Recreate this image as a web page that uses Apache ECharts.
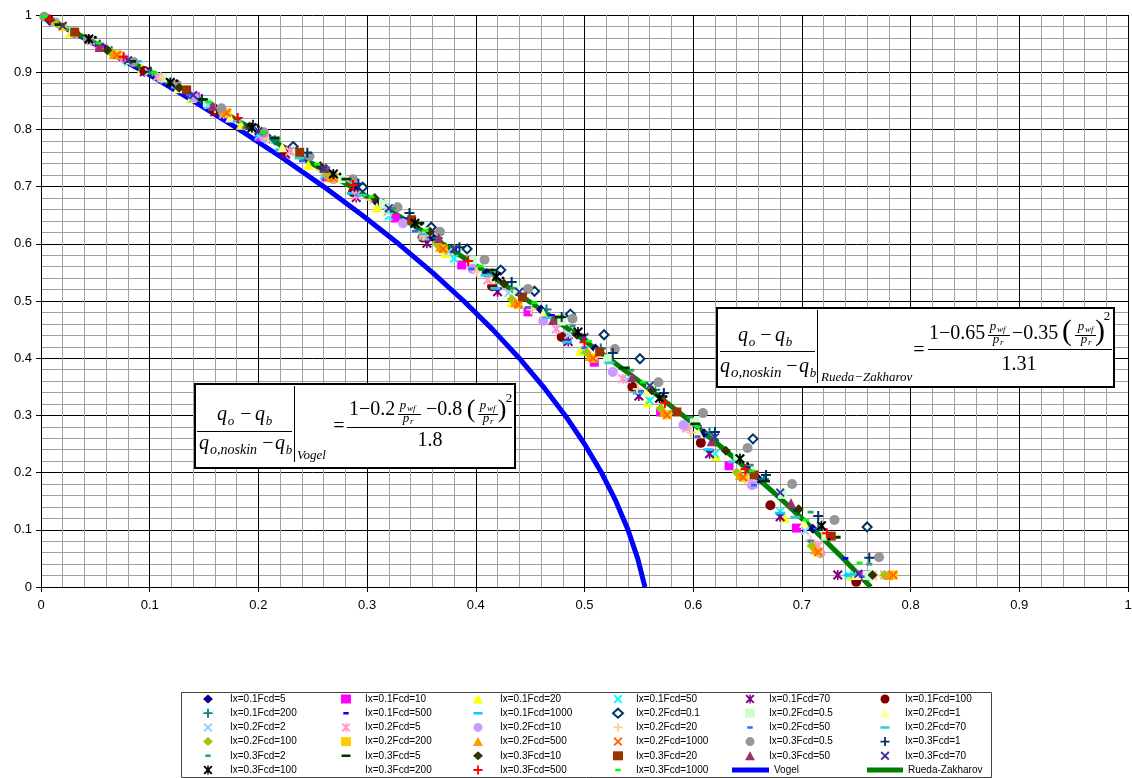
<!DOCTYPE html>
<html><head><meta charset="utf-8">
<script src="https://cdn.jsdelivr.net/npm/echarts@6/dist/echarts.min.js"></script>
<style>html,body{margin:0;padding:0;background:#fff}#c{width:1132px;height:778px}</style>
</head><body><div id="c"></div>
<script>
// ---------- DATA ----------
const xTickLabels = ['0','0.1','0.2','0.3','0.4','0.5','0.6','0.7','0.8','0.9','1'];
const seriesNames = ['Ix=0.1Fcd=5','Ix=0.1Fcd=10','Ix=0.1Fcd=20','Ix=0.1Fcd=50','Ix=0.1Fcd=70','Ix=0.1Fcd=100',
 'Ix=0.1Fcd=200','Ix=0.1Fcd=500','Ix=0.1Fcd=1000','Ix=0.2Fcd=0.1','Ix=0.2Fcd=0.5','Ix=0.2Fcd=1',
 'Ix=0.2Fcd=2','Ix=0.2Fcd=5','Ix=0.2Fcd=10','Ix=0.2Fcd=20','Ix=0.2Fcd=50','Ix=0.2Fcd=70',
 'Ix=0.2Fcd=100','Ix=0.2Fcd=200','Ix=0.2Fcd=500','Ix=0.2Fcd=1000','Ix=0.3Fcd=0.5','Ix=0.3Fcd=1',
 'Ix=0.3Fcd=2','Ix=0.3Fcd=5','Ix=0.3Fcd=10','Ix=0.3Fcd=20','Ix=0.3Fcd=50','Ix=0.3Fcd=70',
 'Ix=0.3Fcd=100','Ix=0.3Fcd=200','Ix=0.3Fcd=500','Ix=0.3Fcd=1000'];
const lineNames = ['Vogel','Rueda-Zakharov'];

const ix01_fcd5 = [[0.010,0.990],[0.060,0.941],[0.110,0.890],[0.160,0.838],[0.210,0.784],[0.260,0.729],[0.310,0.671],[0.360,0.612],[0.410,0.549],[0.460,0.485],[0.510,0.417],[0.560,0.345],[0.610,0.269],[0.660,0.189],[0.710,0.102],[0.755,0.020]];
const ix01_fcd10 = [[0.054,0.944],[0.142,0.857],[0.201,0.787],[0.262,0.717],[0.326,0.645],[0.387,0.563],[0.448,0.481],[0.509,0.393],[0.570,0.306],[0.633,0.212],[0.695,0.103],[0.756,0.021]];
const ix01_fcd20 = [[0.027,0.969],[0.093,0.907],[0.138,0.855],[0.184,0.808],[0.246,0.738],[0.309,0.664],[0.372,0.584],[0.433,0.498],[0.496,0.413],[0.558,0.323],[0.621,0.229],[0.684,0.121],[0.745,0.020]];
const ix01_fcd50 = [[0.020,0.980],[0.080,0.918],[0.140,0.854],[0.200,0.788],[0.260,0.720],[0.320,0.648],[0.380,0.574],[0.440,0.496],[0.500,0.414],[0.560,0.326],[0.620,0.233],[0.680,0.132],[0.743,0.021]];
const ix01_fcd70 = [[0.030,0.970],[0.095,0.901],[0.160,0.831],[0.225,0.757],[0.290,0.681],[0.355,0.601],[0.420,0.516],[0.485,0.429],[0.550,0.334],[0.615,0.233],[0.680,0.123],[0.733,0.021]];
const ix01_fcd100 = [[0.031,0.969],[0.095,0.902],[0.159,0.834],[0.223,0.763],[0.287,0.690],[0.351,0.611],[0.415,0.526],[0.479,0.437],[0.544,0.350],[0.607,0.252],[0.671,0.143],[0.750,0.009]];
const ix01_fcd200 = [[0.015,0.986],[0.065,0.937],[0.115,0.887],[0.165,0.835],[0.215,0.781],[0.265,0.727],[0.315,0.669],[0.365,0.610],[0.415,0.548],[0.465,0.485],[0.515,0.417],[0.565,0.345],[0.615,0.270],[0.665,0.189],[0.715,0.102],[0.762,0.020]];
const ix01_fcd500 = [[0.020,0.981],[0.065,0.936],[0.110,0.891],[0.155,0.844],[0.200,0.796],[0.245,0.747],[0.290,0.697],[0.335,0.644],[0.380,0.590],[0.425,0.533],[0.470,0.475],[0.515,0.413],[0.560,0.349],[0.605,0.281],[0.650,0.210],[0.695,0.134],[0.740,0.050]];
const ix01_fcd1000 = [[0.022,0.978],[0.088,0.919],[0.154,0.838],[0.220,0.764],[0.286,0.688],[0.352,0.608],[0.418,0.522],[0.484,0.428],[0.549,0.339],[0.614,0.240],[0.680,0.129],[0.743,0.021]];
const ix02_fcd01 = [[0.008,0.991],[0.232,0.770],[0.296,0.699],[0.359,0.629],[0.392,0.591],[0.423,0.554],[0.454,0.517],[0.487,0.477],[0.518,0.441],[0.551,0.399],[0.655,0.259],[0.760,0.105]];
const ix02_fcd05 = [[0.030,0.971],[0.071,0.931],[0.112,0.890],[0.153,0.847],[0.194,0.803],[0.235,0.759],[0.276,0.714],[0.315,0.669],[0.356,0.621],[0.397,0.571],[0.438,0.519],[0.479,0.465],[0.521,0.399],[0.561,0.350],[0.601,0.289],[0.641,0.227],[0.682,0.162],[0.722,0.089],[0.760,0.020]];
const ix02_fcd1 = [[0.030,0.970],[0.078,0.922],[0.126,0.872],[0.174,0.821],[0.222,0.769],[0.270,0.716],[0.318,0.657],[0.366,0.600],[0.414,0.538],[0.462,0.478],[0.510,0.410],[0.557,0.342],[0.605,0.269],[0.654,0.191],[0.702,0.112],[0.750,0.021]];
const ix02_fcd2 = [[0.044,0.956],[0.099,0.900],[0.154,0.843],[0.209,0.782],[0.264,0.721],[0.319,0.656],[0.375,0.586],[0.430,0.514],[0.485,0.441],[0.539,0.363],[0.594,0.280],[0.649,0.192],[0.703,0.098]];
const ix02_fcd5 = [[0.046,0.955],[0.107,0.892],[0.168,0.827],[0.229,0.762],[0.290,0.685],[0.351,0.615],[0.411,0.537],[0.474,0.451],[0.535,0.364],[0.594,0.278],[0.655,0.180],[0.715,0.072],[0.776,0.021]];
const ix02_fcd10 = [[0.013,0.987],[0.077,0.923],[0.141,0.856],[0.205,0.786],[0.269,0.713],[0.333,0.636],[0.397,0.556],[0.462,0.465],[0.526,0.376],[0.591,0.283],[0.654,0.178],[0.717,0.059]];
const ix02_fcd20 = [[0.012,0.988],[0.061,0.940],[0.111,0.889],[0.160,0.837],[0.209,0.783],[0.258,0.728],[0.303,0.677],[0.352,0.614],[0.401,0.551],[0.451,0.485],[0.500,0.417],[0.549,0.346],[0.598,0.270],[0.648,0.189],[0.708,0.082],[0.768,0.020]];
const ix02_fcd50 = [[0.032,0.968],[0.084,0.915],[0.136,0.860],[0.188,0.803],[0.240,0.745],[0.292,0.685],[0.344,0.622],[0.396,0.556],[0.448,0.489],[0.500,0.418],[0.552,0.342],[0.604,0.263],[0.656,0.178],[0.708,0.080],[0.755,0.018]];
const ix02_fcd70 = [[0.010,0.990],[0.067,0.933],[0.124,0.874],[0.181,0.814],[0.238,0.750],[0.295,0.685],[0.352,0.617],[0.409,0.545],[0.466,0.471],[0.523,0.392],[0.580,0.307],[0.637,0.219],[0.694,0.122],[0.748,0.022]];
const ix02_fcd100 = [[0.015,0.985],[0.064,0.935],[0.165,0.835],[0.263,0.720],[0.364,0.600],[0.433,0.503],[0.502,0.410],[0.570,0.312],[0.640,0.200],[0.709,0.072],[0.776,0.021]];
const ix02_fcd200 = [[0.020,0.980],[0.070,0.930],[0.171,0.829],[0.269,0.715],[0.370,0.591],[0.439,0.494],[0.508,0.400],[0.576,0.301],[0.646,0.192],[0.715,0.061],[0.784,0.021]];
const ix02_fcd500 = [[0.067,0.932],[0.168,0.832],[0.266,0.717],[0.367,0.595],[0.436,0.498],[0.505,0.404],[0.573,0.306],[0.643,0.196],[0.712,0.066],[0.780,0.021]];
const ix02_fcd1000 = [[0.070,0.930],[0.171,0.829],[0.269,0.715],[0.370,0.591],[0.439,0.494],[0.508,0.400],[0.576,0.301],[0.646,0.192],[0.715,0.061],[0.784,0.021]];
const ix03_fcd05 = [[0.003,0.997],[0.043,0.958],[0.085,0.918],[0.125,0.878],[0.166,0.837],[0.205,0.795],[0.247,0.753],[0.287,0.713],[0.328,0.664],[0.367,0.621],[0.408,0.572],[0.448,0.521],[0.489,0.469],[0.528,0.416],[0.568,0.358],[0.609,0.304],[0.650,0.243],[0.691,0.180],[0.730,0.117],[0.771,0.052]];
const ix03_fcd1 = [[0.008,0.991],[0.054,0.948],[0.101,0.901],[0.148,0.853],[0.195,0.808],[0.245,0.759],[0.292,0.705],[0.339,0.654],[0.385,0.594],[0.433,0.533],[0.479,0.472],[0.526,0.409],[0.573,0.339],[0.620,0.271],[0.667,0.196],[0.715,0.124],[0.762,0.051]];
const ix03_fcd2 = [[0.047,0.955],[0.102,0.899],[0.158,0.843],[0.213,0.784],[0.269,0.724],[0.324,0.662],[0.379,0.596],[0.434,0.522],[0.489,0.456],[0.543,0.379],[0.597,0.297],[0.653,0.213],[0.708,0.131],[0.762,0.040]];
const ix03_fcd5 = [[0.017,0.983],[0.083,0.919],[0.149,0.852],[0.215,0.785],[0.281,0.713],[0.348,0.636],[0.415,0.554],[0.477,0.472],[0.537,0.383],[0.602,0.285],[0.666,0.185],[0.731,0.087]];
const ix03_fcd10 = [[0.008,0.992],[0.061,0.939],[0.127,0.873],[0.192,0.805],[0.257,0.736],[0.307,0.680],[0.358,0.621],[0.426,0.530],[0.493,0.441],[0.562,0.344],[0.630,0.238],[0.697,0.136],[0.765,0.021]];
const ix03_fcd20 = [[0.031,0.970],[0.134,0.869],[0.238,0.760],[0.341,0.642],[0.443,0.507],[0.514,0.411],[0.585,0.306],[0.656,0.196],[0.727,0.089]];
const ix03_fcd50 = [[0.054,0.944],[0.158,0.841],[0.262,0.733],[0.366,0.610],[0.471,0.467],[0.544,0.367],[0.617,0.255],[0.690,0.147]];
const ix03_fcd70 = [[0.020,0.981],[0.080,0.921],[0.140,0.860],[0.200,0.797],[0.260,0.731],[0.320,0.662],[0.380,0.591],[0.440,0.516],[0.500,0.437],[0.560,0.352],[0.620,0.262],[0.680,0.165],[0.752,0.023]];
const ix03_fcd100 = [[0.044,0.958],[0.119,0.882],[0.194,0.803],[0.269,0.722],[0.344,0.636],[0.419,0.543],[0.494,0.446],[0.569,0.330],[0.643,0.224],[0.718,0.107]];
const ix03_fcd200 = [[0.050,0.961],[0.125,0.885],[0.200,0.805],[0.275,0.722],[0.350,0.634],[0.425,0.540],[0.500,0.441],[0.575,0.333],[0.650,0.216],[0.725,0.084]];
const ix03_fcd500 = [[0.008,0.992],[0.076,0.927],[0.181,0.820],[0.287,0.703],[0.393,0.570],[0.500,0.428],[0.574,0.322],[0.648,0.206],[0.723,0.094]];
const ix03_fcd1000 = [[0.003,0.997],[0.053,0.951],[0.104,0.899],[0.154,0.848],[0.204,0.794],[0.254,0.739],[0.304,0.682],[0.354,0.623],[0.404,0.561],[0.454,0.497],[0.504,0.430],[0.554,0.358],[0.604,0.280],[0.654,0.203],[0.704,0.117],[0.753,0.042]];

const vogelCurve = [[0,1],[0.0489,0.95],[0.0956,0.9],[0.14,0.85],[0.1822,0.8],[0.2222,0.75],[0.26,0.7],[0.2956,0.65],[0.3289,0.6],[0.36,0.55],[0.3889,0.5],[0.4156,0.45],[0.44,0.4],[0.4622,0.35],[0.4822,0.3],[0.5,0.25],[0.5156,0.2],[0.5289,0.15],[0.54,0.1],[0.5489,0.05],[0.5556,0]];
const ruedaCurve = [[0,1],[0.0509,0.95],[0.1004,0.9],[0.1486,0.85],[0.1954,0.8],[0.2409,0.75],[0.2851,0.7],[0.328,0.65],[0.3695,0.6],[0.4096,0.55],[0.4485,0.5],[0.486,0.45],[0.5221,0.4],[0.557,0.35],[0.5905,0.3],[0.6226,0.25],[0.6534,0.2],[0.6829,0.15],[0.7111,0.1],[0.7379,0.05],[0.7634,0]];

const seriesData = [ix01_fcd5,ix01_fcd10,ix01_fcd20,ix01_fcd50,ix01_fcd70,ix01_fcd100,ix01_fcd200,ix01_fcd500,ix01_fcd1000,
 ix02_fcd01,ix02_fcd05,ix02_fcd1,ix02_fcd2,ix02_fcd5,ix02_fcd10,ix02_fcd20,ix02_fcd50,ix02_fcd70,
 ix02_fcd100,ix02_fcd200,ix02_fcd500,ix02_fcd1000,ix03_fcd05,ix03_fcd1,ix03_fcd2,ix03_fcd5,ix03_fcd10,
 ix03_fcd20,ix03_fcd50,ix03_fcd70,ix03_fcd100,ix03_fcd200,ix03_fcd500,ix03_fcd1000];

// ---------- STYLES ----------
const SYM = {
  dia: 'diamond', sq: 'rect', tri: 'triangle', cir: 'circle', hdia: 'emptyDiamond',
  x: 'path://M1.5,0L5,3.5L8.5,0L10,1.5L6.5,5L10,8.5L8.5,10L5,6.5L1.5,10L0,8.5L3.5,5L0,1.5Z',
  plus: 'path://M4,0H6V4H10V6H6V10H4V6H0V4H4Z',
  ast: 'path://M1.5,0L5,3.5L8.5,0L10,1.5L6.5,5L10,8.5L8.5,10L5,6.5L1.5,10L0,8.5L3.5,5L0,1.5ZM4.2,0H5.8V10H4.2Z',
  sdash: 'path://M0,0L0.01,0ZM10,10L10.01,10ZM2,3.6H8V6.4H2Z',
  ldash: 'path://M0,0L0.01,0ZM10,10L10.01,10ZM0,3.6H10V6.4H0Z'
};
const markers = [
 ['dia',10,'#000080'],['sq',9,'#FF00FF'],['tri',10,'#FFFF00'],['x',9,'#00FFFF'],['ast',10,'#800080'],['cir',10,'#800000'],
 ['plus',10,'#008080'],['sdash',10,'#0000FF'],['ldash',10,'#00CCFF'],['hdia',9,'#003366'],['sq',9,'#CCFFCC'],['tri',10,'#FFFF99'],
 ['x',9,'#99CCFF'],['ast',10,'#FF99CC'],['cir',10,'#CC99FF'],['plus',10,'#FFCC99'],['sdash',10,'#3366FF'],['ldash',10,'#33CCCC'],
 ['dia',10,'#99CC00'],['sq',9,'#FFCC00'],['tri',10,'#FF9900'],['x',9,'#FF6600'],['cir',10,'#969696'],['plus',10,'#003366'],
 ['sdash',10,'#339966'],['ldash',10,'#003300'],['dia',10,'#333300'],['sq',9,'#993300'],['tri',10,'#993366'],['x',9,'#333399'],
 ['ast',10,'#000000'],['cir',3,'#000000'],['plus',10,'#FF0000'],['sdash',10,'#00FF00']
];

// ---------- SERIES ----------
const series = seriesNames.map((n, i) => ({
  type: 'scatter', name: n, data: seriesData[i],
  symbol: SYM[markers[i][0]], symbolSize: markers[i][1], symbolKeepAspect: true,
  itemStyle: { color: markers[i][2], opacity: 1 }, z: 3, silent: true
}));
series.push({ type: 'line', name: 'Vogel', data: vogelCurve, symbol: 'none', showSymbol: false, color: '#0000FF',
  lineStyle: { color: '#0000FF', width: 5 }, itemStyle: { color: '#0000FF' }, z: 2, silent: true });
series.push({ type: 'line', name: 'Rueda-Zakharov', data: ruedaCurve, symbol: 'none', showSymbol: false, color: '#008000',
  lineStyle: { color: '#008000', width: 5 }, itemStyle: { color: '#008000' }, z: 2, silent: true });

// ---------- LEGENDS ----------
const colLeft = [203, 341, 473, 612, 745, 880];
const colPad = [12, 9, 12, 8, 9, 10];
const legendText = (pad) => ({ fontSize: 10, fontFamily: '"Liberation Sans", Arial, sans-serif', color: '#000', lineHeight: 12, padding: [0, 0, 0, pad] });
const legends = colLeft.map((l, c) => {
  const data = [];
  for (let r = 0; r < 6; r++) {
    const idx = c + 6 * r;
    if (idx < seriesNames.length) {
      const nm = seriesNames[idx];
      data.push(nm === 'Ix=0.3Fcd=200' ? { name: nm, itemStyle: { opacity: 0 } } : nm);
    }
  }
  return { orient: 'vertical', left: l, top: 693, padding: 0, itemWidth: 10, itemHeight: 9, itemGap: 2.2,
    selectedMode: false, textStyle: legendText(colPad[c]), data };
});
legends.push({ orient: 'vertical', left: 732, top: 764, padding: 0, itemWidth: 37, itemHeight: 5, selectedMode: false,
  textStyle: legendText(0), data: [{ name: 'Vogel', icon: 'rect' }] });
legends.push({ orient: 'vertical', left: 867, top: 764, padding: 0, itemWidth: 36, itemHeight: 5, selectedMode: false,
  textStyle: legendText(0), data: [{ name: 'Rueda-Zakharov', icon: 'rect' }] });

// ---------- EQUATION BOXES (decoration) ----------
const EQF = '"Liberation Serif", "Times New Roman", serif';
function T(s, x, base, size, it, al) {
  return { type: 'text', z: 110, silent: true, style: { text: s, x: x, y: base - 0.34 * size, fontSize: size, fontFamily: EQF,
    fontStyle: it ? 'italic' : 'normal', fill: '#000', align: al, textAlign: al, verticalAlign: 'middle', textVerticalAlign: 'middle' } };
}
function HL(x1, x2, y) { return { type: 'line', z: 110, silent: true, shape: { x1: x1, y1: y + 0.5, x2: x2, y2: y + 0.5 }, style: { stroke: '#000', lineWidth: 1 } }; }
function VL(x, y1, y2) { return { type: 'line', z: 110, silent: true, shape: { x1: x + 0.5, y1: y1, x2: x + 0.5, y2: y2 }, style: { stroke: '#000', lineWidth: 1 } }; }
function BOX(x, y, w, h) { return { type: 'rect', z: 105, silent: true, shape: { x: x, y: y, width: w, height: h }, style: { fill: '#fff', stroke: '#000', lineWidth: 2 } }; }

const graphics = [
  { type: 'rect', z: 50, silent: true, shape: { x: 181.5, y: 692.5, width: 810, height: 85 }, style: { fill: 'none', stroke: '#444', lineWidth: 1 } },
  // Vogel box
  BOX(195, 384, 320, 84),
  T('q',222,422,20,1,'center'), T('o',231,426,13,1,'center'), T('\u2212',246,422,20,0,'center'), T('q',260,422,20,1,'center'), T('b',269,426,13,1,'center'),
  HL(197,292,431),
  T('q',204,451,20,1,'center'), T('o,noskin',210,455,14,1,'left'), T('\u2212',268,451,20,0,'center'), T('q',280,451,20,1,'center'), T('b',289,455,13,1,'center'),
  VL(294,386,462),
  T('Vogel',297,460,13,1,'left'),
  T('=',339,434,20,0,'center'),
  HL(347,512,427),
  T('1\u22120.2',349,417,20,0,'left'),
  T('p',403,410,13,1,'center'), T('wf',407,412,9,1,'left'), HL(398,421,414), T('p',406,423,13,1,'center'), T('r',410,425,9,1,'left'),
  T('\u22120.8',426,417,20,0,'left'),
  T('(',471,419,26,0,'center'),
  T('p',483,410,13,1,'center'), T('wf',487,412,9,1,'left'), HL(478,498,414), T('p',486,423,13,1,'center'), T('r',490,425,9,1,'left'),
  T(')',502,419,26,0,'center'),
  T('2',509,403,13,0,'center'),
  T('1.8',430,448,20,0,'center'),
  // Rueda-Zakharov box
  BOX(717, 308, 397, 79),
  T('q',743,343,20,1,'center'), T('o',752,347,13,1,'center'), T('\u2212',766,343,20,0,'center'), T('q',780,343,20,1,'center'), T('b',789,347,13,1,'center'),
  HL(720,815,351),
  T('q',725,374,20,1,'center'), T('o,noskin',731,378,15,1,'left'), T('\u2212',792,374,20,0,'center'), T('q',804,374,20,1,'center'), T('b',813,378,13,1,'center'),
  VL(817,310,383),
  T('Rueda\u2212Zakharov',821,382,13,1,'left'),
  T('=',919,358,20,0,'center'),
  HL(928,1112,349),
  T('1\u22120.65',929,341,20,0,'left'),
  T('p',993,331,13,1,'center'), T('wf',997,333,9,1,'left'), HL(988,1010,335), T('p',996,344,13,1,'center'), T('r',1000,346,9,1,'left'),
  T('\u22120.35',1012,341,20,0,'left'),
  T('(',1067,342,30,0,'center'),
  T('p',1081,331,13,1,'center'), T('wf',1085,333,9,1,'left'), HL(1075,1096,335), T('p',1084,344,13,1,'center'), T('r',1088,346,9,1,'left'),
  T(')',1100,342,30,0,'center'),
  T('2',1107,321,13,0,'center'),
  T('1.31',1019,372,20,0,'center')
];

// ---------- AXES ----------
function axisCfg(margin, labels) {
  return {
    type: 'value', min: 0, max: 1, interval: 0.1,
    axisLine: { show: true, lineStyle: { color: '#000', width: 1 } },
    axisTick: { show: true, length: 5, lineStyle: { color: '#000' } },
    axisLabel: { fontSize: 13, color: '#000', fontFamily: '"Liberation Sans", Arial, sans-serif', margin: margin,
      formatter: (v) => labels[Math.round(v * 10)] },
    splitLine: { show: true, lineStyle: { color: '#000', width: 1 } },
    minorTick: { show: false, splitNumber: 5 },
    minorSplitLine: { show: true, lineStyle: { color: '#a0a0a0', width: 1 } }
  };
}

const chart = echarts.init(document.getElementById('c'), null, { renderer: 'canvas' });
chart.setOption({
  animation: false,
  backgroundColor: '#fff',
  grid: { left: 41, right: 4, top: 15, bottom: 191, containLabel: false, outerBoundsMode: 'none' },
  xAxis: axisCfg(12, xTickLabels),
  yAxis: axisCfg(9, xTickLabels),
  legend: legends,
  graphic: graphics,
  series: series
});
</script>
</body></html>
